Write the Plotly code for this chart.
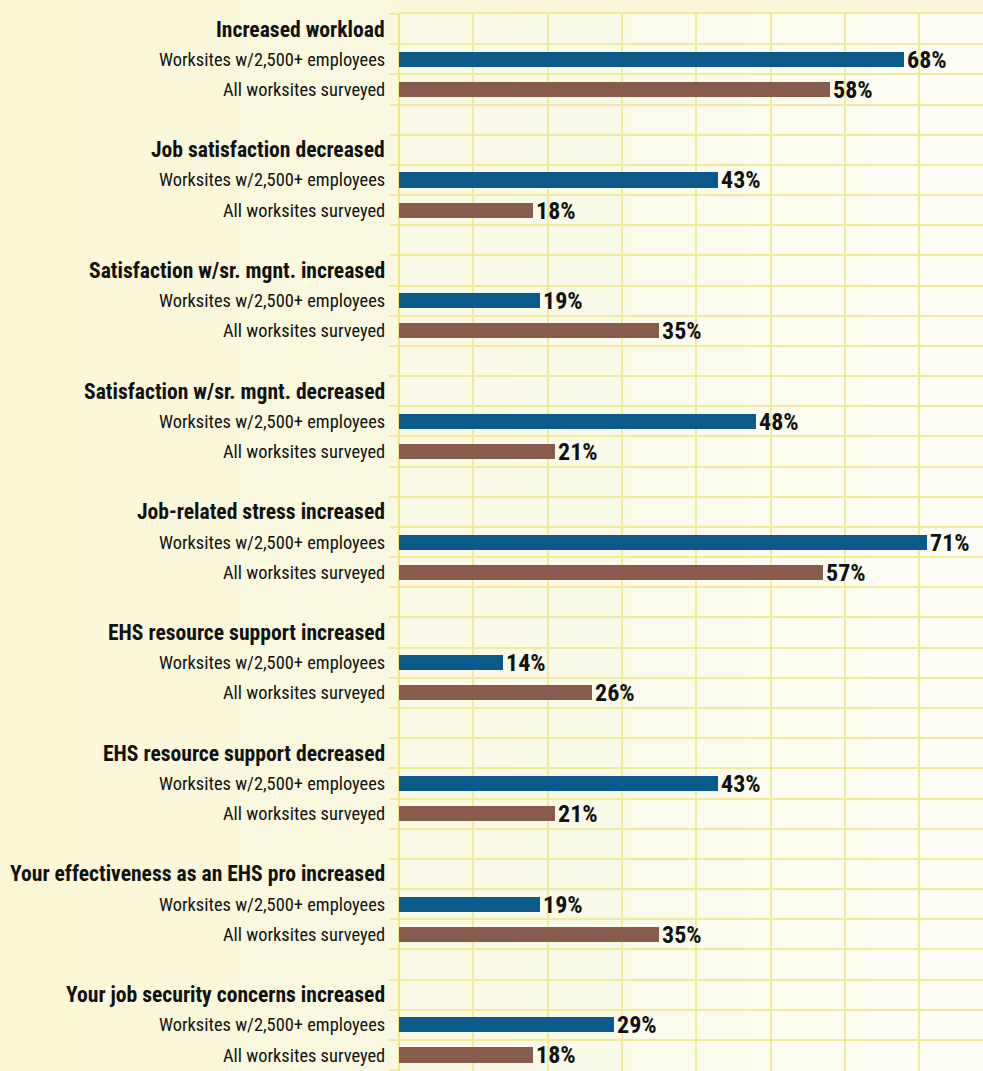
import plotly.graph_objects as go

categories = [
    "Increased workload",
    "Job satisfaction decreased",
    "Satisfaction w/sr. mgnt. increased",
    "Satisfaction w/sr. mgnt. decreased",
    "Job-related stress increased",
    "EHS resource support increased",
    "EHS resource support decreased",
    "Your effectiveness as an EHS pro increased",
    "Your job security concerns increased",
]
series_names = ["Worksites w/2,500+ employees", "All worksites surveyed"]
large_worksites = [68, 43, 19, 48, 71, 14, 43, 19, 29]
all_worksites = [58, 18, 35, 21, 57, 26, 21, 35, 18]

BLUE = "#0c5a8a"
BROWN = "#875c4c"
GRID = "#f3eb9c"
FONT = "Roboto, sans-serif"


def cond(s):
    return f'<span style="font-stretch:condensed">{s}</span>'


n = len(categories)
title_rows = [4 * g for g in range(n)]
blue_rows = [4 * g + 1 for g in range(n)]
brown_rows = [4 * g + 2 for g in range(n)]

fig = go.Figure()

# soft background gradients (left label panel and plot area)
left_cols = ["#fbf6d5", "#fbf7d8", "#faf7db", "#faf8dd", "#faf9e0"]
plot_cols = ["#f9f9e5", "#fafae9", "#fbfbed", "#fcfcf1", "#fdfdf5"]
lp = -399 / 584
for i, c in enumerate(left_cols):
    fig.add_shape(type="rect", xref="paper", yref="paper", layer="below",
                  x0=lp + (-lp) * i / 5, x1=lp + (-lp) * (i + 1) / 5,
                  y0=0, y1=1.02, fillcolor=c, line=dict(width=0))
for i, c in enumerate(plot_cols):
    fig.add_shape(type="rect", xref="paper", yref="paper", layer="below",
                  x0=i / 5, x1=(i + 1) / 5, y0=0, y1=1.0,
                  fillcolor=c, line=dict(width=0))

for vals, rows, color, name in [
    (large_worksites, blue_rows, BLUE, series_names[0]),
    (all_worksites, brown_rows, BROWN, series_names[1]),
]:
    fig.add_trace(go.Bar(
        x=vals, y=rows, orientation="h", width=0.5,
        marker=dict(color=color, line=dict(width=0)),
        text=[cond(f"{v}%") for v in vals], textposition="outside",
        textfont=dict(family=FONT, size=24, color="#111111", weight="bold"),
        constraintext="none", cliponaxis=False, name=name, showlegend=False,
        hoverinfo="skip",
    ))

annotations = []
for g, cat in enumerate(categories):
    annotations.append(dict(
        x=0, xref="paper", y=title_rows[g], yref="y", text=cond(f"<b>{cat}</b>"),
        xanchor="right", yanchor="middle", xshift=-12, showarrow=False,
        font=dict(family=FONT, size=21.6, color="#111111"),
    ))
    for r, nm in [(blue_rows[g], series_names[0]), (brown_rows[g], series_names[1])]:
        annotations.append(dict(
            x=0, xref="paper", y=r, yref="y", text=cond(nm),
            xanchor="right", yanchor="middle", xshift=-12, showarrow=False,
            font=dict(family=FONT, size=18.4, color="#111111"),
        ))

fig.update_layout(
    width=983, height=1071,
    margin=dict(l=399, r=0, t=14, b=0),
    paper_bgcolor="#faf8dc",
    plot_bgcolor="rgba(0,0,0,0)",
    annotations=annotations,
    bargap=0,
    xaxis=dict(range=[0, 78.6], dtick=10, tick0=0, showticklabels=False,
               showgrid=True, gridcolor=GRID, gridwidth=1.5,
               zeroline=True, zerolinecolor="#f1e88c", zerolinewidth=2,
               side="top", showline=True, linecolor="#f3ea94", linewidth=2,
               ticks="", fixedrange=True),
    yaxis=dict(range=[34.53, -0.5], tick0=-0.5, dtick=1, showticklabels=False,
               showgrid=True, gridcolor=GRID, gridwidth=1.5,
               zeroline=False, ticks="outside", ticklen=9, tickcolor=GRID,
               tickwidth=1.5, fixedrange=True),
)

fig.write_html("out.html", config={"displayModeBar": False},
               post_script="document.body.style.margin='0';")
